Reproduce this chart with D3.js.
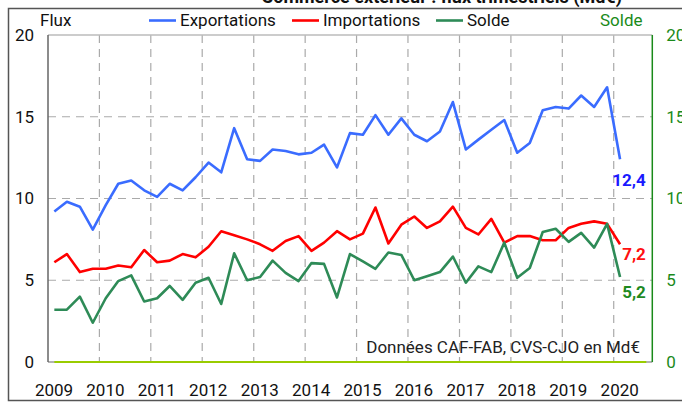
<!DOCTYPE html>
<html>
<head>
<meta charset="utf-8">
<script src="https://cdn.jsdelivr.net/npm/d3@7"></script>
<style>
body { margin: 0; background: #fff; }
svg { display: block; font-family: Roboto, "Noto Sans", sans-serif; }
</style>
</head>
<body>
<div id="chart"></div>
<script>
// quarters 2009T1 .. 2020T1
var quarters = ["2009T1","2009T2","2009T3","2009T4","2010T1","2010T2","2010T3","2010T4",
  "2011T1","2011T2","2011T3","2011T4","2012T1","2012T2","2012T3","2012T4",
  "2013T1","2013T2","2013T3","2013T4","2014T1","2014T2","2014T3","2014T4",
  "2015T1","2015T2","2015T3","2015T4","2016T1","2016T2","2016T3","2016T4",
  "2017T1","2017T2","2017T3","2017T4","2018T1","2018T2","2018T3","2018T4",
  "2019T1","2019T2","2019T3","2019T4","2020T1"]

var exportations = [9.2,9.8,9.5,8.1,9.6,10.9,11.1,10.5,10.1,10.9,10.5,11.3,12.2,11.6,14.3,12.4,
  12.3,13.0,12.9,12.7,12.8,13.3,11.9,14.0,13.9,15.1,13.9,14.9,13.9,13.5,14.1,15.9,
  13.0,13.6,14.2,14.8,12.8,13.4,15.4,15.6,15.5,16.3,15.6,16.8,12.4]
var importations = [6.1,6.6,5.5,5.7,5.7,5.9,5.8,6.85,6.1,6.2,6.6,6.4,7.05,8.0,7.75,7.5,
  7.2,6.8,7.4,7.7,6.8,7.3,8.0,7.5,7.85,9.45,7.25,8.4,8.9,8.2,8.6,9.5,
  8.2,7.8,8.75,7.3,7.7,7.7,7.45,7.45,8.2,8.45,8.6,8.45,7.2]
var solde = [3.2,3.2,4.0,2.4,3.9,4.95,5.3,3.7,3.9,4.65,3.8,4.85,5.15,3.55,6.65,5.0,
  5.2,6.2,5.45,4.95,6.05,6.0,3.95,6.6,6.15,5.7,6.7,6.55,5.0,5.25,5.5,6.45,
  4.85,5.85,5.5,7.3,5.15,5.75,7.95,8.15,7.35,7.9,7.0,8.45,5.2]

var yTicks = [0, 5, 10, 15, 20]
var years = [2009,2010,2011,2012,2013,2014,2015,2016,2017,2018,2019,2020]
var seriesNames = ["Exportations","Importations","Solde"]
var colors = ["#3a6cff","#ff0000","#2e8b57"]
var lastLabels = ["12,4","7,2","5,2"]
var labelColors = ["#1a1aff","#ff1010","#1f8a1f"]

var width = 682, height = 403
var mLeft = 48, mRight = 652.3, mTop = 35, mBottom = 362

// mid-quarter date for each point
function qDate(q) {
  var yr = +q.substring(0,4), t = +q.substring(5)
  return new Date(yr, (t-1)*3 + 1, 15)
}

var x = d3.scaleTime()
  .domain([new Date(2009,0,1), new Date(2020,9,1)])
  .range([mLeft, mRight])
var y = d3.scaleLinear().domain([0,20]).range([mBottom, mTop])

var svg = d3.select("#chart").append("svg").attr("width",width).attr("height",height)

// title (mostly cut off at the top)
svg.append("text").attr("x",622).attr("y",2.5).attr("text-anchor","end")
  .attr("font-size","18px").attr("font-weight","bold").attr("fill","#111")
  .text("Commerce extérieur : flux trimestriels (Md€)")

// outer frame
svg.append("rect").attr("x",8.5).attr("y",8.5).attr("width",700).attr("height",392)
  .attr("fill","none").attr("stroke","#555").attr("stroke-width",1.5)

// gridlines
svg.append("g").selectAll("line").data(yTicks.filter(d => d > 0 && d < 20)).enter()
  .append("line")
  .attr("x1",mLeft).attr("x2",mRight)
  .attr("y1",d => y(d)).attr("y2",d => y(d))
  .attr("stroke","#aaa").attr("stroke-width",1.2).attr("stroke-dasharray","8,6")
svg.append("g").selectAll("line").data(years.slice(1)).enter()
  .append("line")
  .attr("x1",d => x(new Date(d,0,1))).attr("x2",d => x(new Date(d,0,1)))
  .attr("y1",mTop).attr("y2",mBottom)
  .attr("stroke","#aaa").attr("stroke-width",1.2).attr("stroke-dasharray","8,6")

// plot border
svg.append("line").attr("x1",mLeft).attr("x2",mRight).attr("y1",mTop).attr("y2",mTop)
  .attr("stroke","#bbb").attr("stroke-width",1.5)
svg.append("line").attr("x1",mLeft).attr("x2",mRight).attr("y1",mBottom).attr("y2",mBottom)
  .attr("stroke","#999").attr("stroke-width",1.5)
svg.append("line").attr("x1",mLeft).attr("x2",mLeft).attr("y1",mTop).attr("y2",mBottom)
  .attr("stroke","#666").attr("stroke-width",1.5)
svg.append("line").attr("x1",mRight).attr("x2",mRight).attr("y1",mTop).attr("y2",mBottom)
  .attr("stroke","#1a8a1a").attr("stroke-width",1.5)
// zero line
svg.append("line").attr("x1",x(qDate(quarters[0]))).attr("x2",mRight-6)
  .attr("y1",mBottom).attr("y2",mBottom)
  .attr("stroke","#99cc00").attr("stroke-width",2)

// left axis
var yAxisL = svg.append("g").attr("transform","translate(" + mLeft + ",0)")
  .call(d3.axisLeft(y).tickValues(yTicks).tickSize(0).tickPadding(14))
yAxisL.select(".domain").remove()
yAxisL.selectAll("text").attr("font-size","17px").attr("fill","#111").attr("font-family","Roboto")

// right axis
var yAxisR = svg.append("g").attr("transform","translate(" + mRight + ",0)")
  .call(d3.axisRight(y).tickValues(yTicks).tickSize(0).tickPadding(14))
yAxisR.select(".domain").remove()
yAxisR.selectAll("text").attr("font-size","17px").attr("fill","#1a8a1a").attr("font-family","Roboto")

// x axis labels
svg.append("g").selectAll("text").data(years).enter()
  .append("text")
  .attr("x",d => x(new Date(d,0,1)) + 6).attr("y",396)
  .attr("text-anchor","middle").attr("font-size","17px").attr("fill","#111")
  .text(d => d)

// lines
var allSeries = [exportations, importations, solde]
var line = d3.line().x((d,i) => x(qDate(quarters[i]))).y(d => y(d))
allSeries.forEach(function(s,k){
  svg.append("path").datum(s)
    .attr("d", line)
    .attr("fill","none")
    .attr("stroke", colors[k])
    .attr("stroke-width",2.6)
    .attr("stroke-linejoin","round")
})

// end labels
var labelPos = [[629, 186],[634, 260],[634, 298]]
lastLabels.forEach(function(t,k){
  svg.append("text").attr("x",labelPos[k][0]).attr("y",labelPos[k][1])
    .attr("text-anchor","middle").attr("font-size","17px").attr("font-weight","bold")
    .attr("fill",labelColors[k]).text(t)
})

// legend
svg.append("text").attr("x",40).attr("y",26).attr("font-size","17px").attr("fill","#111").text("Flux")
var legendX = [149, 292, 436]
seriesNames.forEach(function(n,k){
  svg.append("line").attr("x1",legendX[k]).attr("x2",legendX[k]+27)
    .attr("y1",20.5).attr("y2",20.5).attr("stroke",colors[k]).attr("stroke-width",2.6)
  svg.append("text").attr("x",legendX[k]+31).attr("y",26)
    .attr("font-size","17px").attr("fill","#111").text(n)
})
svg.append("text").attr("x",600).attr("y",26).attr("font-size","17px").attr("fill","#1a8a1a").text("Solde")

// source note
svg.append("text").attr("x",640).attr("y",353).attr("text-anchor","end")
  .attr("font-size","17px").attr("fill","#222").text("Données CAF-FAB, CVS-CJO en Md€")
</script>
</body>
</html>
